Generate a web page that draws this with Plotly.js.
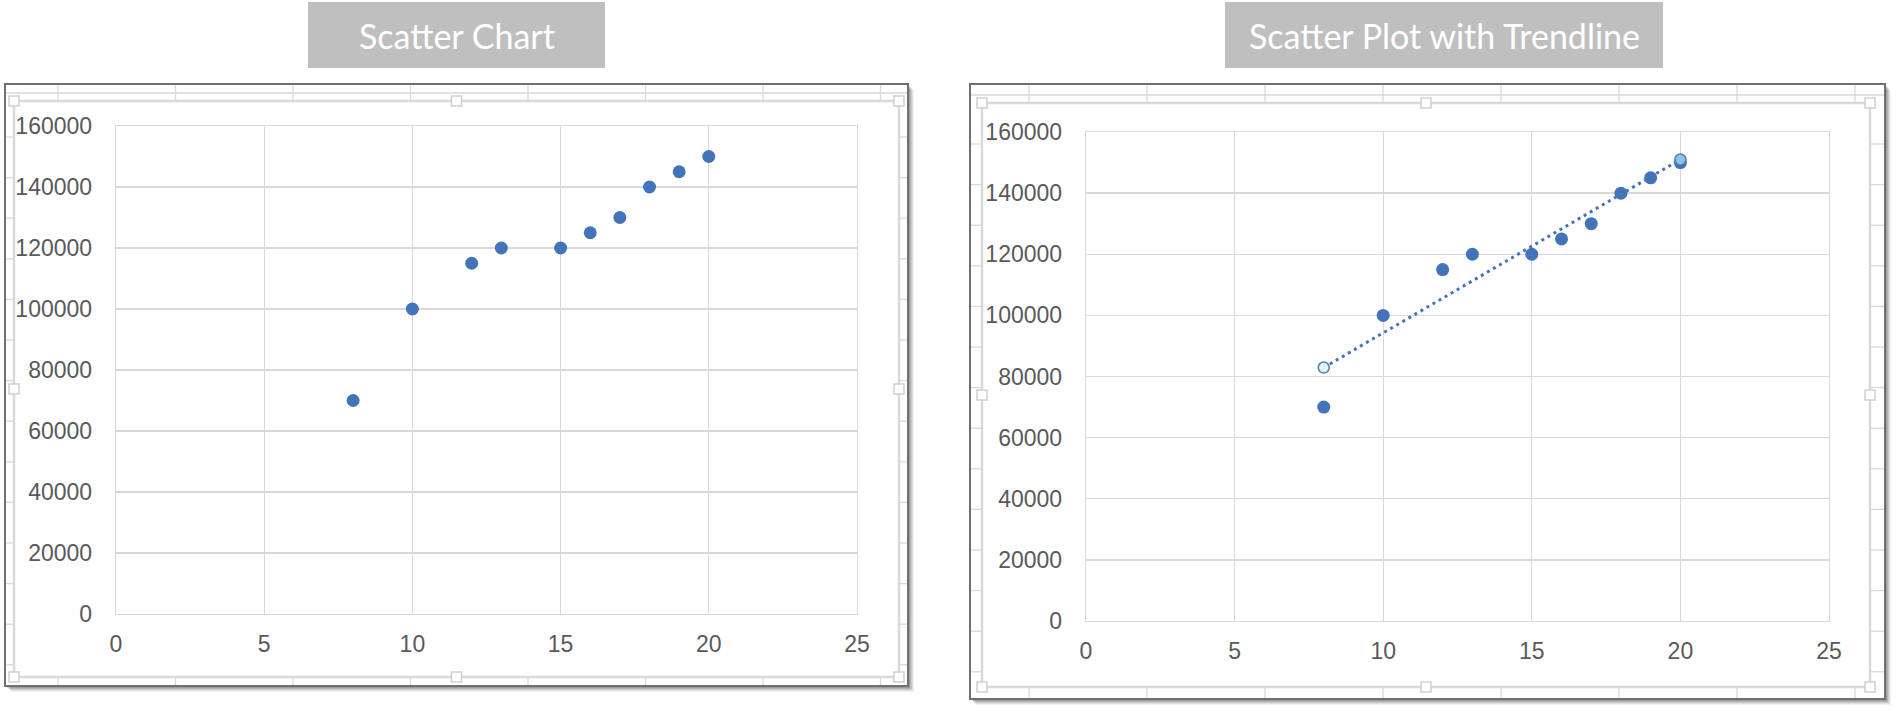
<!DOCTYPE html>
<html>
<head>
<meta charset="utf-8">
<script src="https://cdn.plot.ly/plotly-3.0.1.min.js"></script>
<style>
html,body{margin:0;padding:0;background:#fff;}
#chart{width:1899px;height:714px;}
</style>
</head>
<body>
<div id="chart"></div>
<script>
// ---- data ----
const xValues = [8, 10, 12, 13, 15, 16, 17, 18, 19, 20];
const yValues = [70000, 100000, 115000, 120000, 120000, 125000, 130000, 140000, 145000, 150000];
const xTickVals = [0, 5, 10, 15, 20, 25];
const yTickVals = [0, 20000, 40000, 60000, 80000, 100000, 120000, 140000, 160000];
const chartTitles = ['Scatter Chart', 'Scatter Plot with Trendline'];

// ---- styles ----
const W = 1899, H = 714;
const px = x => x / W;
const py = y => 1 - y / H;
const dotBlue = '#4373b9';
const gridGray = '#d9d9d9';
const tickFont = {family: 'Liberation Sans Narrow, Arial Narrow, sans-serif', size: 23, color: '#595959'};

// least-squares trendline derived from the data
const n = xValues.length;
const mx = xValues.reduce((a, b) => a + b, 0) / n;
const my = yValues.reduce((a, b) => a + b, 0) / n;
let sxy = 0, sxx = 0;
for (let i = 0; i < n; i++) { sxy += (xValues[i] - mx) * (yValues[i] - my); sxx += (xValues[i] - mx) ** 2; }
const slope = sxy / sxx, intercept = my - slope * mx;
const trendX = [Math.min(...xValues), Math.max(...xValues)];
const trendY = trendX.map(x => intercept + slope * x);

const traces = [
  {x: xValues, y: yValues, xaxis: 'x', yaxis: 'y', type: 'scatter', mode: 'markers',
   marker: {color: dotBlue, size: 13}, hoverinfo: 'x+y'},
  {x: trendX, y: trendY, xaxis: 'x2', yaxis: 'y2', type: 'scatter', mode: 'lines',
   line: {color: dotBlue, width: 3, dash: '3px,4px'}, hoverinfo: 'skip'},
  {x: xValues, y: yValues, xaxis: 'x2', yaxis: 'y2', type: 'scatter', mode: 'markers',
   marker: {color: dotBlue, size: 13}, hoverinfo: 'x+y'},
  {x: trendX, y: trendY, xaxis: 'x2', yaxis: 'y2', type: 'scatter', mode: 'markers',
   marker: {color: ['#e4f2fa', '#8fc3e3'], size: 11, line: {color: '#4f7fb0', width: 1.5}}, hoverinfo: 'skip'}
];

function xAxis(domain, anchor) {
  return {domain: domain, anchor: anchor, range: [0, 25], tickvals: xTickVals, ticktext: xTickVals.map(String),
    showgrid: true, gridcolor: gridGray, gridwidth: 1.3, zeroline: false,
    showline: true, mirror: true, linecolor: gridGray, linewidth: 1.3,
    ticks: '', ticklabelstandoff: 9, tickfont: tickFont, fixedrange: true};
}
function yAxis(domain, anchor) {
  return {domain: domain, anchor: anchor, range: [0, 160000], tickvals: yTickVals, ticktext: yTickVals.map(String),
    showgrid: true, gridcolor: gridGray, gridwidth: 1.3, zeroline: false,
    showline: true, mirror: true, linecolor: gridGray, linewidth: 1.3,
    ticks: '', ticklabelstandoff: 18, tickfont: tickFont, fixedrange: true};
}

// ---- decorative frames (Excel chart objects on a worksheet) ----
const shapes = [];
const annotations = [];
function rect(x0, y0, x1, y1, fill, lineColor, lineWidth) {
  shapes.push({type: 'rect', xref: 'paper', yref: 'paper', layer: 'below',
    x0: px(x0), x1: px(x1), y0: py(y1), y1: py(y0),
    fillcolor: fill, line: {color: lineColor, width: lineWidth}});
}
function line(x0, y0, x1, y1, color, width) {
  shapes.push({type: 'line', xref: 'paper', yref: 'paper', layer: 'below',
    x0: px(x0), x1: px(x1), y0: py(y0), y1: py(y1), line: {color: color, width: width}});
}
function frame(o) {
  // shadow
  for (let k = 6; k >= 1; k--) {
    rect(o.x0 + k, o.y0 + k, o.x1 + k, o.y1 + k, 'rgba(0,0,0,' + (0.05 + 0.02 * (6 - k)) + ')', 'rgba(0,0,0,0)', 0);
  }
  rect(o.x0, o.y0, o.x1, o.y1, '#ffffff', '#707070', 2);
  // worksheet cell lines visible around the chart
  for (let x = o.cellX; x < o.x1 - 4; x += o.cellW) {
    line(x, o.y0 + 1, x, o.iy0, gridGray, 1.3);
    line(x, o.iy1, x, o.y1 - 1, gridGray, 1.3);
  }
  for (let y = o.cellY; y < o.y1 - 4; y += o.cellH) {
    line(o.x0 + 1, y, o.ix0, y, gridGray, 1.3);
    line(o.ix1, y, o.x1 - 1, y, gridGray, 1.3);
  }
  line(o.x0 + 1, o.iy0 - 8, o.x1 - 1, o.iy0 - 8, gridGray, 1.3);
  // chart area
  rect(o.ix0, o.iy0, o.ix1, o.iy1, '#ffffff', gridGray, 2.5);
  // selection handles
  const mxp = (o.ix0 + o.ix1) / 2, myp = (o.iy0 + o.iy1) / 2;
  [[o.ix0, o.iy0], [mxp, o.iy0], [o.ix1, o.iy0], [o.ix0, myp], [o.ix1, myp], [o.ix0, o.iy1], [mxp, o.iy1], [o.ix1, o.iy1]]
    .forEach(([hx, hy]) => {
      shapes.push({type: 'rect', xref: 'paper', yref: 'paper', layer: 'below',
        x0: px(hx - 5), x1: px(hx + 5), y0: py(hy + 5), y1: py(hy - 5),
        fillcolor: '#ffffff', line: {color: '#cfcfcf', width: 1.5}});
    });
}
function titleBox(x0, x1, text) {
  rect(x0, 2, x1, 68, '#bfbfbf', 'rgba(0,0,0,0)', 0);
  annotations.push({xref: 'paper', yref: 'paper', x: px((x0 + x1) / 2), y: py(35), xanchor: 'center', yanchor: 'middle',
    text: text, showarrow: false, font: {family: 'Lato, Open Sans, sans-serif', size: 34, color: '#ffffff'}});
}

frame({x0: 5, y0: 84, x1: 908, y1: 686, ix0: 14, iy0: 101, ix1: 899, iy1: 677,
       cellX: 58, cellW: 117.5, cellY: 137, cellH: 40.6});
frame({x0: 970, y0: 84, x1: 1885, y1: 699, ix0: 982, iy0: 103, ix1: 1870, iy1: 687,
       cellX: 1029, cellW: 118, cellY: 144, cellH: 40.6});
titleBox(308, 605, chartTitles[0]);
titleBox(1225, 1663, chartTitles[1]);

const layout = {
  width: W, height: H,
  margin: {l: 0, r: 0, t: 0, b: 0},
  paper_bgcolor: '#ffffff', plot_bgcolor: 'rgba(0,0,0,0)',
  showlegend: false,
  xaxis: xAxis([px(116), px(857)], 'y'),
  yaxis: yAxis([py(614), py(126)], 'x'),
  xaxis2: xAxis([px(1086), px(1829)], 'y2'),
  yaxis2: yAxis([py(621), py(132)], 'x2'),
  shapes: shapes,
  annotations: annotations
};

Plotly.newPlot('chart', traces, layout, {displayModeBar: false, staticPlot: true});
</script>
</body>
</html>
